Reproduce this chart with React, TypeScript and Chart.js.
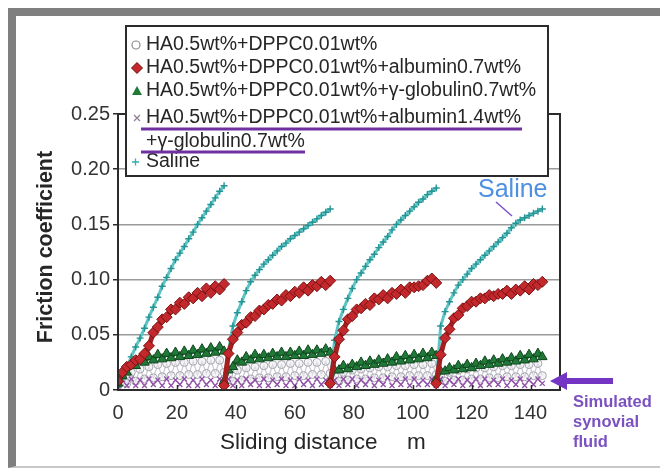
import { useEffect, useRef } from 'react';
import { Chart, registerables } from 'chart.js';

Chart.register(...registerables);

const FONT = "'Liberation Sans', Arial, Helvetica, sans-serif";

// Sliding distance within one test cycle (m) and start of each cycle (m)
const cycleDistance = [0, 1.5, 3, 4.5, 6, 7.5, 9, 10.5, 12, 13.5, 15, 16.5, 18, 19.5, 21, 22.5, 24, 25.5, 27, 28.5, 30, 31.5, 33, 34.5, 36];
const cycleStart = [0, 36, 72, 108];

// Saline
const salineC1 = [0.003, 0.010, 0.020, 0.030, 0.039, 0.047, 0.056, 0.066, 0.075, 0.084, 0.094, 0.102, 0.110, 0.118, 0.124, 0.130, 0.137, 0.143, 0.150, 0.156, 0.162, 0.168, 0.174, 0.180, 0.185];
const salineC2 = [0.008, 0.036, 0.058, 0.070, 0.080, 0.090, 0.098, 0.104, 0.109, 0.114, 0.118, 0.122, 0.126, 0.130, 0.133, 0.137, 0.140, 0.143, 0.146, 0.149, 0.152, 0.155, 0.158, 0.161, 0.164];
const salineC3 = [0.008, 0.045, 0.062, 0.073, 0.083, 0.092, 0.100, 0.106, 0.112, 0.118, 0.123, 0.129, 0.134, 0.139, 0.145, 0.150, 0.154, 0.158, 0.162, 0.166, 0.170, 0.173, 0.177, 0.180, 0.183];
const salineC4 = [0.008, 0.058, 0.071, 0.080, 0.088, 0.095, 0.100, 0.105, 0.110, 0.114, 0.118, 0.122, 0.126, 0.130, 0.134, 0.138, 0.142, 0.147, 0.151, 0.154, 0.156, 0.158, 0.160, 0.162, 0.164];

// HA0.5wt%+DPPC0.01wt%+albumin0.7wt%
const albuminC1 = [0.008, 0.016, 0.021, 0.023, 0.027, 0.028, 0.033, 0.040, 0.052, 0.057, 0.064, 0.066, 0.073, 0.073, 0.079, 0.078, 0.084, 0.083, 0.088, 0.085, 0.092, 0.088, 0.094, 0.091, 0.096];
const albuminC2 = [0.004, 0.033, 0.046, 0.052, 0.059, 0.061, 0.066, 0.067, 0.072, 0.073, 0.077, 0.078, 0.082, 0.081, 0.086, 0.085, 0.089, 0.088, 0.093, 0.090, 0.095, 0.094, 0.098, 0.095, 0.099];
const albuminC3 = [0.006, 0.030, 0.046, 0.054, 0.064, 0.067, 0.073, 0.074, 0.078, 0.077, 0.083, 0.082, 0.086, 0.083, 0.088, 0.087, 0.091, 0.088, 0.093, 0.093, 0.094, 0.095, 0.099, 0.101, 0.097];
const albuminC4 = [0.006, 0.032, 0.047, 0.055, 0.065, 0.068, 0.074, 0.076, 0.080, 0.080, 0.083, 0.083, 0.086, 0.085, 0.087, 0.087, 0.090, 0.087, 0.091, 0.090, 0.094, 0.091, 0.096, 0.095, 0.098];

// HA0.5wt%+DPPC0.01wt%+γ-globulin0.7wt%
const globulinC1 = [0.006, 0.013, 0.016, 0.022, 0.022, 0.028, 0.025, 0.030, 0.027, 0.032, 0.028, 0.033, 0.029, 0.034, 0.030, 0.035, 0.031, 0.036, 0.032, 0.037, 0.033, 0.038, 0.034, 0.039, 0.035];
const globulinC2 = [0.008, 0.018, 0.021, 0.027, 0.025, 0.030, 0.027, 0.032, 0.028, 0.032, 0.029, 0.033, 0.030, 0.034, 0.030, 0.034, 0.031, 0.035, 0.031, 0.036, 0.032, 0.036, 0.033, 0.037, 0.034];
const globulinC3 = [0.008, 0.018, 0.018, 0.022, 0.019, 0.023, 0.021, 0.025, 0.022, 0.026, 0.023, 0.027, 0.024, 0.028, 0.025, 0.030, 0.026, 0.031, 0.027, 0.032, 0.028, 0.033, 0.029, 0.034, 0.031];
const globulinC4 = [0.010, 0.017, 0.017, 0.020, 0.018, 0.022, 0.019, 0.023, 0.020, 0.024, 0.022, 0.026, 0.023, 0.027, 0.024, 0.028, 0.025, 0.029, 0.026, 0.031, 0.027, 0.032, 0.028, 0.033, 0.030];

// HA0.5wt%+DPPC0.01wt%
const haDppcC1 = [0.004, 0.011, 0.006, 0.016, 0.008, 0.019, 0.010, 0.021, 0.011, 0.023, 0.012, 0.024, 0.013, 0.025, 0.013, 0.025, 0.014, 0.026, 0.014, 0.026, 0.015, 0.027, 0.015, 0.027, 0.016];
const haDppcC2 = [0.006, 0.014, 0.008, 0.018, 0.009, 0.020, 0.010, 0.021, 0.011, 0.022, 0.011, 0.023, 0.012, 0.023, 0.012, 0.024, 0.013, 0.024, 0.013, 0.025, 0.014, 0.025, 0.014, 0.026, 0.015];
const haDppcC3 = [0.006, 0.013, 0.008, 0.016, 0.009, 0.018, 0.010, 0.019, 0.010, 0.020, 0.011, 0.021, 0.011, 0.021, 0.012, 0.022, 0.012, 0.022, 0.013, 0.023, 0.013, 0.023, 0.013, 0.024, 0.014];
const haDppcC4 = [0.006, 0.013, 0.008, 0.016, 0.009, 0.018, 0.009, 0.019, 0.010, 0.020, 0.010, 0.020, 0.011, 0.021, 0.011, 0.022, 0.012, 0.022, 0.012, 0.023, 0.012, 0.023, 0.013, 0.024, 0.013];

// HA0.5wt%+DPPC0.01wt%+albumin1.4wt%+γ-globulin0.7wt% (simulated synovial fluid)
const synovialC1 = [0.004, 0.009, 0.004, 0.010, 0.004, 0.009, 0.004, 0.010, 0.005, 0.009, 0.004, 0.010, 0.004, 0.009, 0.005, 0.010, 0.004, 0.009, 0.004, 0.010, 0.005, 0.009, 0.004, 0.010, 0.006];
const synovialC2 = [0.004, 0.010, 0.004, 0.009, 0.004, 0.010, 0.005, 0.009, 0.004, 0.010, 0.004, 0.009, 0.005, 0.010, 0.004, 0.009, 0.004, 0.010, 0.005, 0.009, 0.004, 0.010, 0.005, 0.009, 0.006];
const synovialC3 = [0.004, 0.009, 0.004, 0.010, 0.005, 0.010, 0.004, 0.009, 0.005, 0.010, 0.004, 0.009, 0.005, 0.011, 0.004, 0.009, 0.005, 0.010, 0.004, 0.010, 0.005, 0.009, 0.005, 0.010, 0.006];
const synovialC4 = [0.004, 0.010, 0.004, 0.009, 0.005, 0.010, 0.004, 0.009, 0.005, 0.010, 0.004, 0.010, 0.005, 0.009, 0.005, 0.010, 0.004, 0.009, 0.005, 0.010, 0.004, 0.009, 0.005, 0.010, 0.006];

const xTicks = [0, 20, 40, 60, 80, 100, 120, 140];
const yTicks = [0, 0.05, 0.1, 0.15, 0.2, 0.25];

const legendLines = [
  'HA0.5wt%+DPPC0.01wt%',
  'HA0.5wt%+DPPC0.01wt%+albumin0.7wt%',
  'HA0.5wt%+DPPC0.01wt%+γ-globulin0.7wt%',
  'HA0.5wt%+DPPC0.01wt%+albumin1.4wt%',
  '+γ-globulin0.7wt%',
  'Saline',
];

function buildSeries(cycles: number[][]) {
  const pts: { x: number; y: number | null }[] = [];
  cycles.forEach((vals, i) => {
    if (i > 0) pts.push({ x: cycleStart[i], y: null });
    vals.forEach((v, j) => pts.push({ x: cycleStart[i] + cycleDistance[j], y: v }));
  });
  return pts;
}

const decorPlugin = {
  id: 'decor',
  afterDatasetsDraw(chart: any) {
    const { ctx, chartArea: a, scales } = chart;
    const x = scales.x;
    ctx.save();
    ctx.strokeStyle = '#2b2b2b';
    ctx.lineWidth = 1.5;
    for (const v of xTicks) {
      const px = Math.round(x.getPixelForValue(v)) + 0.5;
      ctx.beginPath();
      ctx.moveTo(px, a.bottom);
      ctx.lineTo(px, a.bottom - 5);
      ctx.stroke();
    }
    ctx.lineWidth = 2;
    ctx.strokeRect(a.left, a.top, a.right - a.left, a.bottom - a.top);
    ctx.restore();
  },
  afterDraw(chart: any) {
    const { ctx } = chart;
    ctx.save();
    // Legend box
    ctx.fillStyle = '#ffffff';
    ctx.fillRect(110, 10, 422, 150);
    ctx.strokeStyle = '#2b2b2b';
    ctx.lineWidth = 2;
    ctx.strokeRect(110, 10, 422, 150);

    const rows = [29, 52, 75, 102, 126, 146];
    ctx.font = `19.5px ${FONT}`;
    ctx.fillStyle = '#262626';
    ctx.textBaseline = 'middle';
    ctx.textAlign = 'left';
    legendLines.forEach((t, i) => ctx.fillText(t, 130, rows[i]));

    // markers
    ctx.lineWidth = 1.2;
    ctx.strokeStyle = '#8c8c8c';
    ctx.fillStyle = '#fff';
    ctx.beginPath();
    ctx.arc(120, rows[0], 4, 0, Math.PI * 2);
    ctx.fill();
    ctx.stroke();

    ctx.beginPath();
    ctx.moveTo(121, rows[1] - 5.5);
    ctx.lineTo(126.5, rows[1]);
    ctx.lineTo(121, rows[1] + 5.5);
    ctx.lineTo(115.5, rows[1]);
    ctx.closePath();
    ctx.fillStyle = '#c3282c';
    ctx.fill();
    ctx.strokeStyle = '#6d1010';
    ctx.lineWidth = 1;
    ctx.stroke();

    ctx.beginPath();
    ctx.moveTo(121, rows[2] - 5);
    ctx.lineTo(126, rows[2] + 4);
    ctx.lineTo(116, rows[2] + 4);
    ctx.closePath();
    ctx.fillStyle = '#1f7a38';
    ctx.fill();

    ctx.strokeStyle = '#8f7f94';
    ctx.lineWidth = 1.3;
    ctx.beginPath();
    ctx.moveTo(118, rows[3] - 3);
    ctx.lineTo(124, rows[3] + 3);
    ctx.moveTo(124, rows[3] - 3);
    ctx.lineTo(118, rows[3] + 3);
    ctx.stroke();

    ctx.strokeStyle = '#35adad';
    ctx.beginPath();
    ctx.moveTo(116, rows[5]);
    ctx.lineTo(123, rows[5]);
    ctx.moveTo(119.5, rows[5] - 3.5);
    ctx.lineTo(119.5, rows[5] + 3.5);
    ctx.stroke();

    // purple underlines
    ctx.strokeStyle = '#7030a0';
    ctx.lineWidth = 3;
    ctx.beginPath();
    ctx.moveTo(125, 113);
    ctx.lineTo(506, 113);
    ctx.moveTo(125, 136);
    ctx.lineTo(289, 136);
    ctx.stroke();

    // Saline annotation
    ctx.font = `25px ${FONT}`;
    ctx.fillStyle = '#4d8fe0';
    ctx.fillText('Saline', 462, 174);
    ctx.strokeStyle = '#7d52c8';
    ctx.lineWidth = 1.5;
    ctx.beginPath();
    ctx.moveTo(480, 186);
    ctx.lineTo(496, 200);
    ctx.stroke();

    // Arrow
    ctx.fillStyle = '#7434c4';
    ctx.beginPath();
    ctx.moveTo(534, 365);
    ctx.lineTo(551, 356);
    ctx.lineTo(551, 362);
    ctx.lineTo(597, 362);
    ctx.lineTo(597, 368);
    ctx.lineTo(551, 368);
    ctx.lineTo(551, 374);
    ctx.closePath();
    ctx.fill();

    ctx.font = `bold 16.5px ${FONT}`;
    ctx.fillStyle = '#7b50c0';
    ctx.fillText('Simulated', 557, 386);
    ctx.fillText('synovial', 557, 406);
    ctx.fillText('fluid', 557, 426);

    // Axis titles
    ctx.fillStyle = '#262626';
    ctx.font = `22.5px ${FONT}`;
    ctx.fillText('Sliding distance', 204, 427);
    ctx.fillText('m', 391, 427);

    ctx.save();
    ctx.translate(30, 231);
    ctx.rotate(-Math.PI / 2);
    ctx.textAlign = 'center';
    ctx.font = `bold 21.5px ${FONT}`;
    ctx.fillText('Friction coefficient', 0, 0);
    ctx.restore();

    ctx.restore();
  },
};

export default function App() {
  const ref = useRef<HTMLCanvasElement>(null);
  useEffect(() => {
    const common = { tension: 0, spanGaps: false, fill: false };
    const chart = new Chart(ref.current as HTMLCanvasElement, {
      type: 'line',
      data: {
        datasets: [
          {
            ...common,
            label: legendLines[1],
            data: buildSeries([albuminC1, albuminC2, albuminC3, albuminC4]),
            order: 0,
            borderColor: '#a51e20',
            borderWidth: 5,
            pointStyle: 'rectRot',
            pointRadius: 5.5,
            pointBackgroundColor: '#c3282c',
            pointBorderColor: '#7a1212',
            pointBorderWidth: 1,
          },
          {
            ...common,
            label: legendLines[2],
            data: buildSeries([globulinC1, globulinC2, globulinC3, globulinC4]),
            order: 1,
            borderColor: '#1c6430',
            borderWidth: 4,
            pointStyle: 'triangle',
            pointRadius: 5.5,
            pointBackgroundColor: '#1f7a38',
            pointBorderColor: '#11461f',
            pointBorderWidth: 1,
          },
          {
            ...common,
            label: legendLines[5],
            data: buildSeries([salineC1, salineC2, salineC3, salineC4]),
            order: 2,
            borderColor: '#5cc4c4',
            borderWidth: 3,
            pointStyle: 'cross',
            pointRadius: 3.5,
            pointBorderColor: '#259494',
            pointBorderWidth: 1.4,
          },
          {
            ...common,
            label: legendLines[3] + legendLines[4],
            data: buildSeries([synovialC1, synovialC2, synovialC3, synovialC4]),
            order: 3,
            borderColor: '#b890c8',
            borderWidth: 1.2,
            pointStyle: 'crossRot',
            pointRadius: 3.5,
            pointBorderColor: '#9050a6',
            pointBorderWidth: 1.3,
          },
          {
            ...common,
            label: legendLines[0],
            data: buildSeries([haDppcC1, haDppcC2, haDppcC3, haDppcC4]),
            order: 4,
            borderColor: '#c8c8d0',
            borderWidth: 1.2,
            pointStyle: 'circle',
            pointRadius: 4,
            pointBackgroundColor: 'rgba(235,235,240,0.5)',
            pointBorderColor: '#a5a5ae',
            pointBorderWidth: 1,
          },
        ],
      },
      options: {
        animation: false,
        responsive: false,
        maintainAspectRatio: false,
        devicePixelRatio: 1,
        layout: { padding: { left: 0, right: 100, top: 98, bottom: 0 } },
        plugins: { legend: { display: false }, tooltip: { enabled: false } },
        scales: {
          x: {
            type: 'linear',
            min: 0,
            max: 150,
            afterBuildTicks: (s: any) => {
              s.ticks = xTicks.map((v) => ({ value: v }));
            },
            afterFit: (s: any) => {
              s.height = 76;
            },
            ticks: {
              stepSize: 20,
              padding: 11,
              color: '#333',
              font: { family: FONT, size: 20 },
              maxRotation: 0,
            },
            grid: { drawOnChartArea: false, drawTicks: false },
            border: { display: false },
          },
          y: {
            type: 'linear',
            min: 0,
            max: 0.25,
            afterBuildTicks: (s: any) => {
              s.ticks = yTicks.map((v) => ({ value: v }));
            },
            afterFit: (s: any) => {
              s.width = 102;
            },
            ticks: {
              padding: 3,
              color: '#333',
              font: { family: FONT, size: 20 },
              callback: (v: any) => (Number(v) === 0 ? '0' : Number(v).toFixed(2)),
            },
            grid: {
              color: '#9a9a9a',
              lineWidth: 1.5,
              drawTicks: true,
              tickLength: 5,
              tickColor: '#2b2b2b',
            },
            border: { display: false },
          },
        },
      },
      plugins: [decorPlugin],
    } as any);
    return () => chart.destroy();
  }, []);

  return (
    <div
      style={{
        position: 'fixed',
        left: 8,
        top: 8,
        width: 720,
        height: 460,
        boxSizing: 'border-box',
        borderTop: '8px solid #7f7f7f',
        borderLeft: '8px solid #7f7f7f',
        borderBottom: '2px solid #c8c8c8',
        background: '#ffffff',
      }}
    >
      <canvas ref={ref} width={644} height={450} style={{ display: 'block', width: 644, height: 450 }} />
    </div>
  );
}
